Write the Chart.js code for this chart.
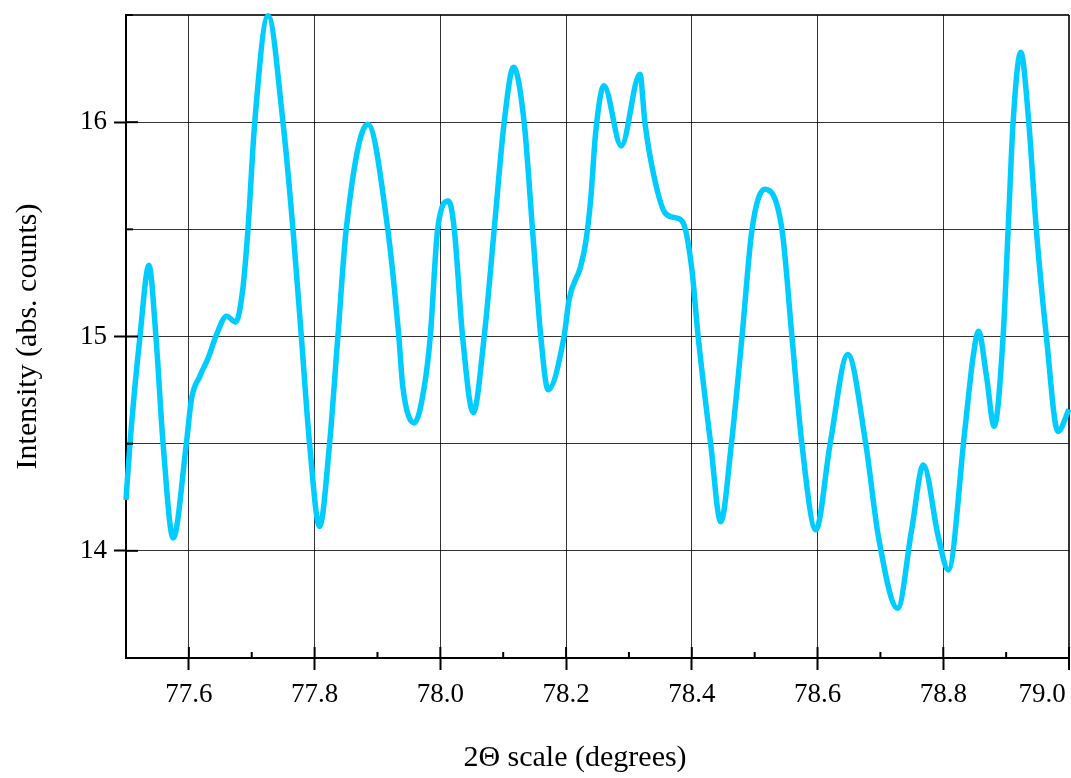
<!DOCTYPE html>
<html>
<head>
<meta charset="utf-8">
<script src="https://cdn.jsdelivr.net/npm/chart.js@4/dist/chart.umd.min.js"></script>
<style>
  html, body { margin: 0; padding: 0; background: #fff; }
  #wrap { width: 1071px; height: 778px; }
</style>
</head>
<body>
<div id="wrap"><canvas id="scan" width="1071" height="778"></canvas></div>
<script>
// 2-theta positions (degrees)
const twoTheta = [
  77.5000, 77.5063, 77.5222, 77.5365, 77.5476, 77.5590, 77.5750, 77.5960, 77.6040, 77.6175,
  77.6307, 77.6440, 77.6600, 77.6746, 77.6857, 77.6940, 77.7048, 77.7259, 77.7497, 77.7656,
  77.7789, 77.7920, 77.8079, 77.8238, 77.8370, 77.8503, 77.8846, 77.9164, 77.9340, 77.9402,
  77.9587, 77.9746, 77.9840, 77.9957, 78.0132, 78.0222, 78.0354, 78.0524, 78.0698, 78.0857,
  78.1016, 78.1164, 78.1333, 78.1466, 78.1598, 78.1714, 78.1968, 78.2048, 78.2233, 78.2312,
  78.2392, 78.2471, 78.2603, 78.2878, 78.3175, 78.3254, 78.3386, 78.3571, 78.3730, 78.3862,
  78.3995, 78.4101, 78.4300, 78.4460, 78.4630, 78.4799, 78.4958, 78.5159, 78.5434, 78.5593,
  78.5751, 78.5973, 78.6201, 78.6481, 78.6767, 78.6968, 78.7275, 78.7497, 78.7683, 78.7920,
  78.8080, 78.8344, 78.8476, 78.8560, 78.8687, 78.8810, 78.8952, 78.9032, 78.9111, 78.9233,
  78.9360, 78.9480, 78.9640, 78.9825, 79.0000
];
// intensity (abs. counts)
const intensity = [
  14.238, 14.500, 15.000, 15.332, 15.000, 14.500, 14.060, 14.500, 14.706, 14.815,
  14.900, 15.009, 15.095, 15.067, 15.220, 15.500, 16.000, 16.497, 16.000, 15.500,
  15.000, 14.500, 14.114, 14.500, 15.000, 15.500, 15.990, 15.500, 15.000, 14.768,
  14.597, 14.768, 15.000, 15.500, 15.632, 15.500, 15.000, 14.645, 15.000, 15.500,
  16.000, 16.256, 16.000, 15.500, 15.000, 14.752, 15.000, 15.173, 15.328, 15.438,
  15.640, 15.952, 16.170, 15.889, 16.224, 15.999, 15.765, 15.578, 15.555, 15.531,
  15.328, 15.000, 14.500, 14.136, 14.500, 15.000, 15.500, 15.687, 15.500, 15.000,
  14.500, 14.098, 14.500, 14.916, 14.500, 14.067, 13.732, 14.098, 14.400, 14.067,
  13.911, 14.565, 14.908, 15.025, 14.815, 14.581, 15.000, 15.500, 16.000, 16.326,
  16.000, 15.500, 15.000, 14.557, 14.660
];

const xMin = 77.5, xMax = 79.0, xStep = 0.1;
const yMin = 13.5, yMax = 16.5, yStep = 0.5;

const FONT = "'Liberation Serif', 'Times New Roman', serif";
const EN = '\u2002';

const isMajorX = v => Math.round(v * 10) % 2 === 0;
const isMajorY = v => Math.round(v * 2) % 2 === 0;

// short inward tick marks (minor ones and the inner half of major ones)
const innerTicks = {
  id: 'innerTicks',
  afterDraw(chart) {
    const { ctx, chartArea, scales } = chart;
    ctx.save();
    ctx.strokeStyle = '#000';
    ctx.lineWidth = 2;
    scales.x.ticks.forEach(t => {
      const px = scales.x.getPixelForValue(t.value);
      const len = isMajorX(t.value) ? 11 : 6;
      ctx.beginPath();
      ctx.moveTo(px, chartArea.bottom);
      ctx.lineTo(px, chartArea.bottom - len);
      ctx.stroke();
    });
    scales.y.ticks.forEach(t => {
      const py = scales.y.getPixelForValue(t.value);
      const len = isMajorY(t.value) ? 12 : 7;
      ctx.beginPath();
      ctx.moveTo(chartArea.left, py);
      ctx.lineTo(chartArea.left + len, py);
      ctx.stroke();
    });
    ctx.restore();
  }
};

const data = twoTheta.map((x, i) => ({ x: x, y: intensity[i] }));

new Chart(document.getElementById('scan').getContext('2d'), {
  type: 'line',
  data: {
    datasets: [{
      data: data,
      borderColor: 'rgb(0, 204, 255)',
      borderWidth: 5.5,
      pointRadius: 0,
      cubicInterpolationMode: 'monotone',
      fill: false,
      clip: 4
    }]
  },
  options: {
    responsive: false,
    animation: false,
    layout: { padding: { top: 15, right: 2, left: 0, bottom: 0 } },
    plugins: {
      legend: { display: false },
      tooltip: { enabled: false }
    },
    scales: {
      x: {
        type: 'linear',
        min: xMin,
        max: xMax,
        afterFit: s => { s.height = 120; s.paddingLeft = 0; s.paddingRight = 0; },
        ticks: {
          stepSize: xStep,
          autoSkip: false,
          maxRotation: 0,
          padding: 9,
          color: '#000',
          font: { family: FONT, size: 27 },
          // last label is pulled left so it stays inside the page
          callback: v => {
            if (!isMajorX(v)) return '';
            const s = v.toFixed(1);
            return Math.abs(v - xMax) < 1e-6 ? s + EN + EN + EN + EN : s;
          }
        },
        grid: {
          color: ctx => isMajorX(ctx.tick.value) ? 'rgba(0,0,0,0.8)' : 'rgba(0,0,0,0)',
          lineWidth: ctx => Math.abs(ctx.tick.value - xMax) < 1e-6 ? 2 : 1,
          tickColor: ctx => isMajorX(ctx.tick.value) ? '#000' : 'rgba(0,0,0,0)',
          tickLength: 12,
          tickWidth: 2
        },
        border: { display: true, color: '#000', width: 2 },
        title: {
          display: true,
          text: '2\u0398 scale (degrees)' + EN + EN + EN,
          color: '#000',
          font: { family: FONT, size: 30 },
          padding: { top: 0, bottom: 2 }
        }
      },
      y: {
        type: 'linear',
        min: yMin,
        max: yMax,
        afterFit: s => { s.width = 126; s.paddingTop = 0; s.paddingBottom = 0; },
        ticks: {
          stepSize: yStep,
          autoSkip: false,
          padding: 7,
          color: '#000',
          font: { family: FONT, size: 27 },
          callback: v => isMajorY(v) ? String(Math.round(v)) : ''
        },
        grid: {
          color: 'rgba(0,0,0,0.8)',
          lineWidth: ctx => Math.abs(ctx.tick.value - yMax) < 1e-6 ? 2 : 1,
          tickColor: ctx => isMajorY(ctx.tick.value) ? '#000' : 'rgba(0,0,0,0)',
          tickLength: 12,
          tickWidth: 2
        },
        border: { display: true, color: '#000', width: 2 },
        title: {
          display: true,
          text: 'Intensity (abs. counts)',
          color: '#000',
          font: { family: FONT, size: 30 },
          padding: { top: 10, bottom: 0 }
        }
      }
    }
  },
  plugins: [innerTicks]
});
</script>
</body>
</html>
